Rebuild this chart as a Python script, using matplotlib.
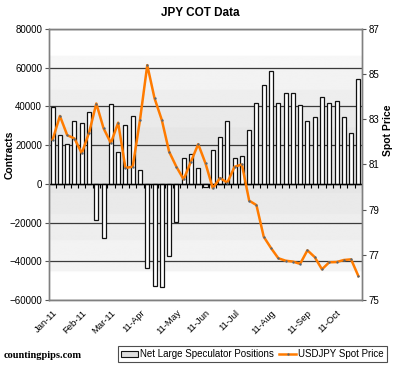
import numpy as np
import matplotlib
matplotlib.use("Agg")
import matplotlib.pyplot as plt
from matplotlib.patches import Patch
from matplotlib.lines import Line2D

plt.rcParams['font.family'] = ['Liberation Sans', 'DejaVu Sans']

# weekly net large speculator positions (contracts)
positions = [39500, 25000, 20700, 32400, 31400, 37000, -18600, -28000, 41000, 16700,
             30600, 34800, 7000, -43400, -52800, -53300, -37400, -19500, 13300, 15600,
             8200, -1500, 17600, 24400, 32300, 13500, 14400, 27900, 41900, 51000,
             58300, 41900, 46800, 46700, 40500, 32500, 34500, 45100, 41900, 42900,
             34700, 26500, 54000]

# USDJPY spot price, same weeks
spot = [82.1, 83.15, 82.3, 82.15, 81.5, 82.4, 83.7, 82.6, 81.95, 82.85,
        80.85, 80.9, 82.97, 85.4, 83.93, 82.97, 81.57, 80.9, 80.34, 81.13,
        81.9, 81.05, 79.95, 80.4, 80.2, 80.9, 81.0, 79.4, 79.2, 77.8,
        77.3, 76.85, 76.74, 76.7, 76.6, 77.2, 76.9, 76.36, 76.67, 76.68,
        76.77, 76.8, 76.06]

month_labels = ['Jan-11', 'Feb-11', 'Mar-11', '11-Apr', '11-May', '11-Jun',
                '11-Jul', '11-Aug', '11-Sep', '11-Oct']
month_index = [0, 4, 8, 12, 17, 21, 25, 30, 35, 39]

n = len(positions)
x = np.arange(n)

fig = plt.figure(figsize=(4.0, 3.68), dpi=100)
ax = fig.add_axes([0.1225, 0.1848, 0.7825, 0.7364])

ax.set_xlim(-0.5, n - 0.5)
ax.set_ylim(-60000, 80000)

# banded grey background
yy = np.linspace(-60000, 80000, 700)
shade = np.interp(yy, [-60000, -45500, -45000, -32000, -20000, -7000, 0, 27000, 40000, 53000, 66000, 66500, 80000],
                  [1.0, 1.0, 0.955, 0.945, 0.93, 0.915, 0.895, 0.905, 0.925, 0.95, 0.965, 1.0, 1.0])
shade = np.round(shade * 60) / 60
ax.imshow(shade[:, None], cmap='gray', vmin=0, vmax=1, aspect='auto', origin='lower',
          extent=[-0.5, n - 0.5, -60000, 80000], zorder=0)

for v in range(-60000, 80001, 20000):
    ax.axhline(v, color='#3a3a3a', lw=0.9, zorder=1)

ax.bar(x, positions, width=0.55, color='white', edgecolor='#111111', linewidth=0.9, zorder=2)

ax.axhline(0, color='black', lw=1.0, zorder=3)
ax.plot(x + 0.5, np.zeros(n), linestyle='none', marker=3, markersize=3,
        color='black', markeredgewidth=0.8, zorder=3)

ax.set_yticks(range(-60000, 80001, 20000))
ax.tick_params(axis='y', labelsize=7, length=3, width=0.8, color='#555555', pad=2)
ax.set_xticks(month_index)
ax.set_xticklabels(month_labels, rotation=45, ha='right', rotation_mode='anchor', fontsize=6.8)
ax.tick_params(axis='x', length=0, pad=6)
for s in ax.spines.values():
    s.set_color('#808080')
    s.set_linewidth(1.0)

ax2 = ax.twinx()
ax2.set_ylim(75, 87)
ax2.set_yticks(range(75, 88, 2))
ax2.tick_params(axis='y', labelsize=7, length=3, width=0.8, color='#555555', pad=2)
ax2.plot(x, spot, color='#ff7b00', lw=1.8, zorder=4, solid_joinstyle='round',
         marker='o', markersize=0.7, markerfacecolor='#556677', markeredgecolor='#556677')
for s in ax2.spines.values():
    s.set_color('#808080')
    s.set_linewidth(1.0)

fig.text(0.5, 0.965, 'JPY COT Data', ha='center', va='center', fontsize=8.5, fontweight='bold')
fig.text(0.025, 1 - 155 / 368, 'Contracts', rotation=90, ha='center', va='center',
         fontsize=7.5, fontweight='bold')
fig.text(388 / 400, 1 - 130 / 368, 'Spot Price', rotation=90, ha='center', va='center',
         fontsize=7.5, fontweight='bold')
fig.text(0.01, 0.035, 'countingpips.com', ha='left', va='center', fontsize=7.5,
         fontweight='bold', family=['Liberation Serif', 'DejaVu Serif'])

handles = [Patch(facecolor='#dddddd', edgecolor='#111111', linewidth=0.8),
           Line2D([0], [0], color='#ff7b00', lw=1.8, marker='o', markersize=0.7,
                  markerfacecolor='#556677', markeredgecolor='#556677')]
leg = fig.legend(handles, ['Net Large Speculator Positions', 'USDJPY Spot Price'],
                 loc='center', bbox_to_anchor=(0.631, 0.038), ncol=2, fontsize=7,
                 frameon=True, fancybox=False, handlelength=1.8, handleheight=0.6,
                 handletextpad=0.2, columnspacing=0.5, borderpad=0.3, borderaxespad=0)
leg.get_frame().set_edgecolor('#222222')
leg.get_frame().set_linewidth(0.8)

fig.savefig('out.png', dpi=100)
